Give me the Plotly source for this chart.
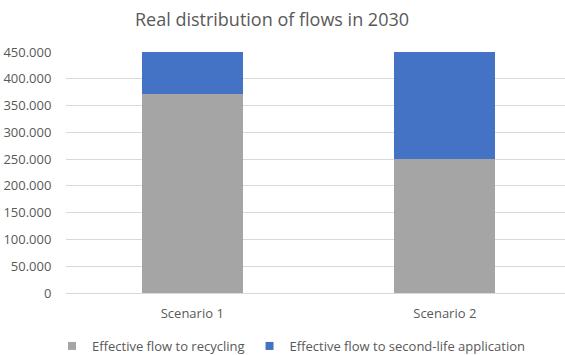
import plotly.graph_objects as go

categories = ["Scenario 1", "Scenario 2"]
recycling = [372000, 250000]
second_life = [78000, 200000]
series_names = ["Effective flow to recycling", "Effective flow to second-life application"]
colors = ["#A5A5A5", "#4472C4"]

FONT = "Open Sans"
TXT = "#595959"

fig = go.Figure()
for vals, name, col in zip([recycling, second_life], series_names, colors):
    fig.add_trace(go.Bar(x=categories, y=vals, name=name, showlegend=False,
                         marker=dict(color=col, line=dict(width=0)), width=0.4))
# legend entries with small square swatches
for name, col in zip(series_names, colors):
    fig.add_trace(go.Scatter(x=[None], y=[None], mode="markers", name=name,
                             marker=dict(symbol="square", size=8, color=col)))

fig.update_layout(
    barmode="stack",
    width=565, height=355,
    margin=dict(l=66, r=0, t=52, b=62, autoexpand=False),
    paper_bgcolor="white", plot_bgcolor="white",
    separators=",.",
    font=dict(family=FONT, size=13, color=TXT),
    title=dict(text="Real distribution of flows in 2030", x=272 / 565, xanchor="center",
               xref="container", y=1 - 20 / 355, yanchor="middle",
               font=dict(family=FONT, size=18, color=TXT)),
    legend=dict(orientation="h", xref="container", x=52 / 565, xanchor="left",
                yref="container", y=9 / 355, yanchor="middle",
                font=dict(family=FONT, size=13, color=TXT), itemwidth=30,
                traceorder="normal", bgcolor="rgba(0,0,0,0)"),
    showlegend=True,
)
fig.update_yaxes(range=[0, 450000], dtick=50000, tickformat=",d",
                 showgrid=True, gridcolor="#D9D9D9", gridwidth=1,
                 zeroline=False, showline=False,
                 ticks="outside", ticklen=11, tickcolor="rgba(0,0,0,0)",
                 tickfont=dict(family=FONT, size=13, color=TXT))
fig.update_xaxes(range=[-0.5, 1.476], showgrid=False, showline=True,
                 linecolor="#D9D9D9", linewidth=1,
                 ticks="outside", ticklen=8, tickcolor="rgba(0,0,0,0)",
                 tickfont=dict(family=FONT, size=13, color=TXT))

fig.write_html("out.html")
